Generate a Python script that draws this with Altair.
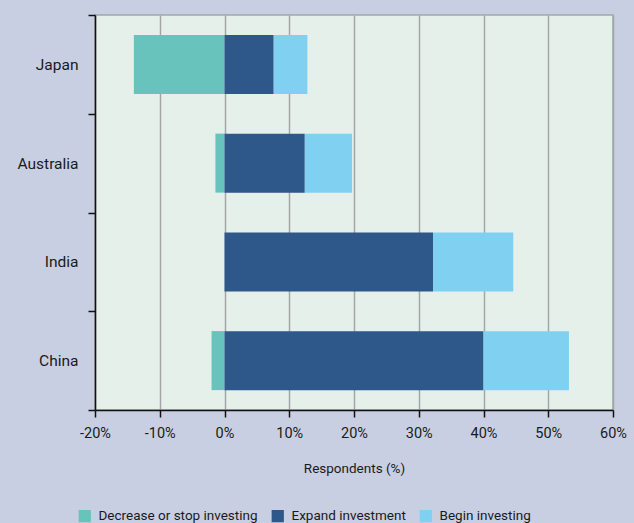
import altair as alt
import pandas as pd

countries = ["Japan", "Australia", "India", "China"]
decrease = [-14.0, -1.4, 0.0, -2.0]
expand = [7.6, 12.4, 32.2, 40.0]
begin = [5.2, 7.3, 12.4, 13.2]

series = ["Decrease or stop investing", "Expand investment", "Begin investing"]
colors = ["#68c3bc", "#2e578a", "#80d0f2"]

rows = []
for i, c in enumerate(countries):
    for k, (s, vals) in enumerate(zip(series, [decrease, expand, begin])):
        rows.append({"country": c, "series": s, "value": vals[i] / 100.0, "order": k})
df = pd.DataFrame(rows)

FONT = "Roboto"

chart = alt.Chart(df).mark_bar(size=59).encode(
    y=alt.Y("country:N", sort=countries, title=None,
            scale=alt.Scale(paddingInner=0, paddingOuter=0),
            axis=alt.Axis(tickBand="extent", grid=False, domainColor="#111", domainWidth=1.5,
                          tickColor="#111", tickWidth=1.5, tickSize=7,
                          labelFont=FONT, labelFontSize=15.5, labelColor="#1a1a1a",
                          labelPadding=10)),
    x=alt.X("value:Q", stack="zero", title="Respondents (%)",
            scale=alt.Scale(domain=[-0.2, 0.6], nice=False),
            axis=alt.Axis(format=".0%", values=[-0.2, -0.1, 0, 0.1, 0.2, 0.3, 0.4, 0.5, 0.6],
                          labelExpr="replace(datum.label, '\u2212', '-')",
                          labelOverlap=False, labelFlush=False,
                          grid=True, gridColor="#a3a6a6", gridWidth=1.5,
                          domainColor="#111", domainWidth=1.5,
                          tickColor="#111", tickWidth=1.5, tickSize=7,
                          labelFont=FONT, labelFontSize=14.5, labelColor="#1a1a1a",
                          labelPadding=9,
                          titleFont=FONT, titleFontSize=13.5, titleFontWeight="normal",
                          titleColor="#1a1a1a", titlePadding=22)),
    color=alt.Color("series:N", sort=series,
                    scale=alt.Scale(domain=series, range=colors),
                    legend=alt.Legend(title=None, orient="none", direction="horizontal",
                                      legendX=-17, legendY=494,
                                      symbolType="square", symbolSize=150,
                                      symbolStrokeWidth=0, symbolOpacity=1,
                                      labelFont=FONT, labelFontSize=13.5,
                                      labelColor="#1a1a1a", labelOffset=7,
                                      columnPadding=13, labelLimit=300)),
    order=alt.Order("order:Q"),
).properties(
    width=518, height=395,
    background="#c9cfe2",
    padding={"left": 95, "top": 15, "right": 21, "bottom": 113},
    autosize=alt.AutoSizeParams(type="none"),
).configure_view(
    fill="#e6f0eb", stroke="#a3a6a6", strokeWidth=1.5
)

chart.save("out.html", embed_options={"renderer": "svg", "actions": False})
